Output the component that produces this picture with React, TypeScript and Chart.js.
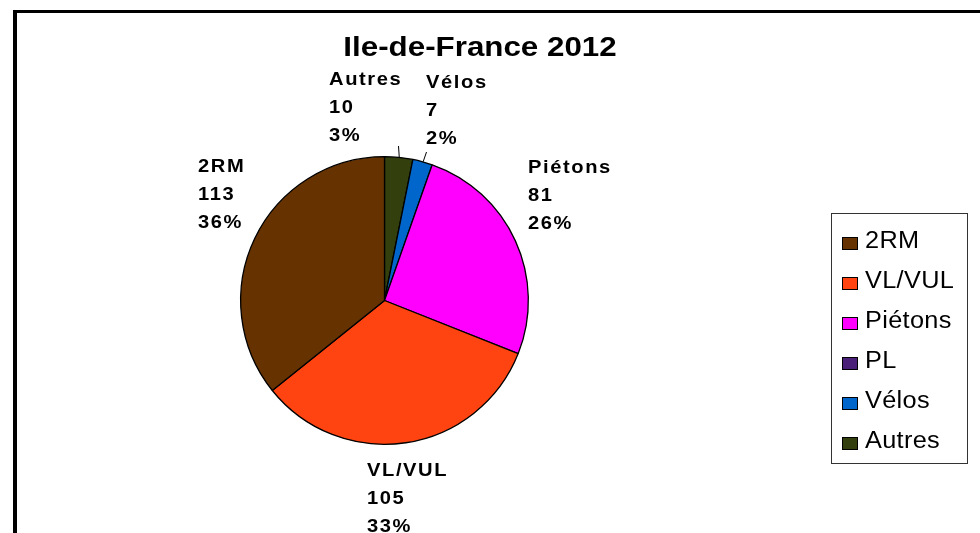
import React, { useEffect, useRef } from "react";
import { Chart, registerables } from "chart.js";

Chart.register(...registerables);

// ---- Data (legend order) ----
const titleText = "Ile-de-France 2012";
const categories = ["2RM", "VL/VUL", "Piétons", "PL", "Vélos", "Autres"];
const values = [113, 105, 81, 0, 7, 10];
const colors = ["#663300", "#FF4411", "#FF00FF", "#4B2079", "#0066CC", "#333F0D"];

// ---- Layout for the data labels (left x, first baseline, optional leader start) ----
type LabelPos = { x: number; y: number; lx?: number; ly?: number } | null;
const labelLayout: LabelPos[] = [
  { x: 198, y: 172 },
  { x: 367, y: 476 },
  { x: 528, y: 173 },
  null,
  { x: 426, y: 88, lx: 426, ly: 152 },
  { x: 329, y: 85, lx: 398, ly: 146 },
];

const FONT = '"Liberation Sans", Arial, sans-serif';

function drawText(
  ctx: CanvasRenderingContext2D,
  text: string,
  x: number,
  y: number,
  sx: number,
  spacing: number
) {
  ctx.save();
  ctx.translate(x, y);
  ctx.scale(sx, 1);
  (ctx as any).letterSpacing = spacing + "px";
  ctx.fillText(text, 0, 0);
  ctx.restore();
}

function measureText(ctx: CanvasRenderingContext2D, text: string, sx: number, spacing: number) {
  ctx.save();
  (ctx as any).letterSpacing = spacing + "px";
  const w = (ctx.measureText(text).width - spacing) * sx;
  ctx.restore();
  return w;
}

const decorPlugin = {
  id: "decor",
  afterDraw(chart: any) {
    const ctx: CanvasRenderingContext2D = chart.ctx;
    const n = categories.length;
    const total = values.reduce((a, b) => a + b, 0);
    const meta = chart.getDatasetMeta(0);
    ctx.save();

    // frame
    ctx.fillStyle = "#000";
    ctx.fillRect(13, 10, 1000, 3);
    ctx.fillRect(13, 10, 4, 600);

    // title
    ctx.fillStyle = "#000";
    ctx.textBaseline = "alphabetic";
    ctx.textAlign = "left";
    ctx.font = `bold 27px ${FONT}`;
    const tw = measureText(ctx, titleText, 1.16, 0);
    drawText(ctx, titleText, 480 - tw / 2, 56, 1.16, 0);

    // data labels + leaders
    ctx.font = `bold 19px ${FONT}`;
    for (let i = 0; i < n; i++) {
      const pos = labelLayout[i];
      if (!pos) continue;
      const arc = meta.data[n - 1 - i];
      const pct = Math.round((values[i] / total) * 100) + "%";
      const lines = [categories[i], String(values[i]), pct];
      lines.forEach((t, k) => drawText(ctx, t, pos.x, pos.y + k * 28, 1.06, 1.5));
      if (pos.lx !== undefined && pos.ly !== undefined && arc) {
        const mid = (arc.startAngle + arc.endAngle) / 2;
        const ex = arc.x + Math.cos(mid) * arc.outerRadius;
        const ey = arc.y + Math.sin(mid) * arc.outerRadius;
        ctx.strokeStyle = "#000";
        ctx.lineWidth = 1;
        ctx.beginPath();
        ctx.moveTo(pos.lx + 0.5, pos.ly);
        ctx.lineTo(ex + 0.5, ey);
        ctx.stroke();
      }
    }

    // legend
    ctx.fillStyle = "#fff";
    ctx.fillRect(831, 213, 136, 250);
    ctx.strokeStyle = "#333";
    ctx.lineWidth = 1;
    ctx.strokeRect(831.5, 213.5, 136, 250);
    ctx.font = `23px ${FONT}`;
    for (let i = 0; i < n; i++) {
      const base = 248 + i * 40;
      ctx.fillStyle = colors[i];
      ctx.fillRect(842, base - 11, 16, 13);
      ctx.strokeStyle = "#000";
      ctx.strokeRect(842.5, base - 10.5, 15, 12);
      ctx.fillStyle = "#000";
      drawText(ctx, categories[i], 865, base, 1.1, 0.3);
    }
    ctx.restore();
  },
};

export default function App() {
  const ref = useRef<HTMLCanvasElement | null>(null);
  useEffect(() => {
    document.body.style.margin = "0";
    const canvas = ref.current;
    if (!canvas) return;
    const chartLabels = [...categories].reverse();
    const chartValues = [...values].reverse();
    const chartColors = [...colors].reverse();
    const chart = new Chart(canvas, {
      type: "pie",
      data: {
        labels: chartLabels,
        datasets: [
          {
            data: chartValues,
            backgroundColor: chartColors,
            borderColor: "#000",
            borderWidth: 1.3,
            hoverBorderWidth: 1.3,
          },
        ],
      },
      options: {
        responsive: false,
        animation: false,
        devicePixelRatio: 1,
        layout: { padding: { left: 240, right: 451, top: 156, bottom: 88 } },
        plugins: {
          legend: { display: false },
          title: { display: false },
          tooltip: { enabled: false },
        },
      },
      plugins: [decorPlugin],
    });
    return () => chart.destroy();
  }, []);
  return (
    <div style={{ width: 980, height: 533, background: "#fff" }}>
      <canvas ref={ref} width={980} height={533} style={{ display: "block" }} />
    </div>
  );
}
